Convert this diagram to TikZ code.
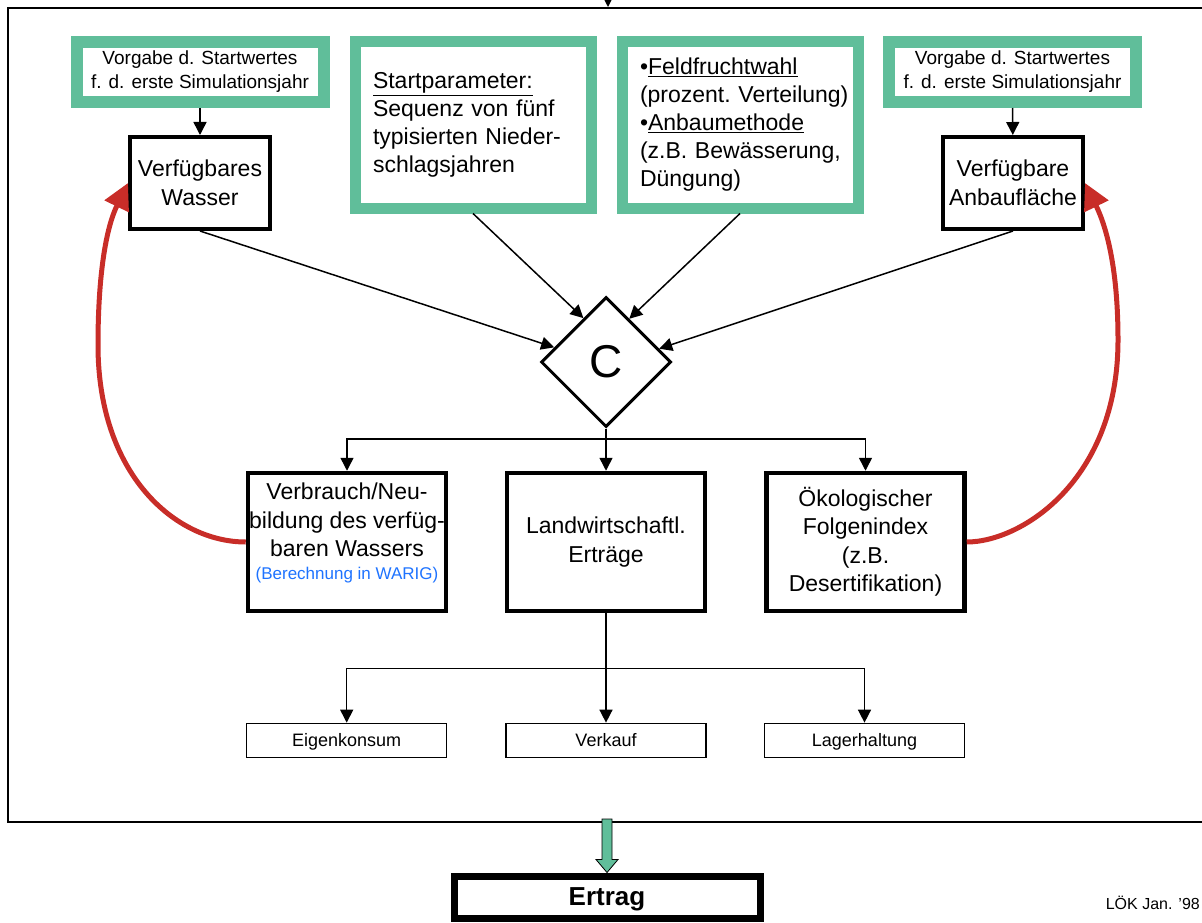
\documentclass[tikz,border=0pt]{standalone}
\usepackage{fontspec}
\setmainfont{Liberation Sans}
\usepackage{tikz}
\usetikzlibrary{arrows.meta, shapes.geometric, calc}
\definecolor{lgreen}{RGB}{96,190,154}
\definecolor{lred}{RGB}{200,45,40}
\definecolor{lblue}{RGB}{30,115,255}
\newcommand\setfs[2]{\fontsize{#1pt}{#2pt}\selectfont}
\tikzset{
  gbox/.style ={rectangle, draw=lgreen, line width=12pt, fill=white, align=center, inner sep=0pt},
  blk/.style  ={rectangle, draw, line width=4.5pt, fill=white, align=center, inner sep=0pt, minimum width=198pt, minimum height=138pt, font=\setfs{23}{28.5}},
  sblk/.style ={blk, line width=4pt, minimum width=140pt, minimum height=92pt},
  endbox/.style ={rectangle, draw, line width=1.5pt, minimum width=200pt, minimum height=34pt, inner sep=0pt, text height=13pt, text depth=0pt, font=\setfs{18}{22}},
  dec/.style  ={diamond, draw, line width=3pt, aspect=1, inner sep=0pt, minimum width=130pt, minimum height=130pt, font=\setfs{46}{50}},
  fl/.style   ={-{Triangle[length=13pt,width=13pt]}, line width=1.5pt},
  rfl/.style  ={-{Triangle[length=26pt,width=26pt]}, draw=lred, line width=5pt},
}

\begin{document}
\begin{tikzpicture}[x=1pt, y=-1pt]
  \useasboundingbox (0,0) rectangle (1202,923);
  % frame
  \draw[line width=2pt] (1202,8) -- (8,8) -- (8,822) -- (1202,822);
  \coordinate (inflow) at (608,-4);
  \coordinate (intop) at (608,7);
  \draw[fl] (inflow) -- (intop);

  % inputs
  \node[gbox, minimum width=247pt, minimum height=60pt, font=\setfs{19}{24}] (vorgA) at (200,72) {Vorgabe d. Startwertes\\f. d. erste Simulationsjahr};
  \node[gbox, line width=11pt, minimum height=166pt, text width=200pt, inner xsep=18pt, align=left, font=\setfs{23}{28}] (start) at (473,125) {\underline{Startparameter:}\\Sequenz von fünf\\typisierten Nieder-\\schlagsjahren};
  \node[gbox, line width=11pt, minimum height=166pt, text width=200pt, inner xsep=18pt, align=left, font=\setfs{23}{28}] (feld) at (740,125) {\textbullet\underline{Feldfruchtwahl}\\\mbox{(prozent.\ Verteilung)}\\\textbullet\underline{Anbaumethode}\\\mbox{(z.B.\ Bewässerung,}\\Düngung)};
  \node[gbox, minimum width=247pt, minimum height=60pt, font=\setfs{19}{24}] (vorgD) at (1012.5,72) {Vorgabe d. Startwertes\\f. d. erste Simulationsjahr};
  \node[sblk] (wasser) at (200,183) {Verfügbares\\Wasser};
  \node[sblk] (anbau) at (1013,183) {Verfügbare\\Anbaufläche};

  \node[dec] (c) at (606,362) {C};

  % results
  \node[blk] (verb) at (347,542) {Verbrauch/Neu-\\bildung des verfüg-\\baren Wassers\\[-6pt]{\color{lblue}\setfs{17}{20}(Berechnung in WARIG)}\rule[-22pt]{0pt}{1pt}};
  \node[blk] (landw) at (606,542) {Landwirtschaftl.\\Erträge};
  \node[blk] (oek) at (865.5,542) {Ökologischer\\Folgenindex\\(z.B.\\Desertifikation)};

  \node[endbox] (eigen) at (346.7,740.4) {Eigenkonsum};
  \node[endbox] (verkauf) at (606,740.4) {Verkauf};
  \node[endbox] (lager) at (864.5,740.4) {Lagerhaltung};

  \node[draw, line width=7pt, minimum width=306pt, minimum height=42pt, inner sep=0pt, text depth=0pt, font=\setfs{26}{30}\bfseries] (ertrag) at (607,897) {Ertrag};
  \node[anchor=base east, inner sep=0pt, font=\setfs{16}{19}] (stamp) at (1200,909) {LÖK Jan. '98};

  % connectors
  \draw[fl] (vorgA) -- (wasser);
  \draw[fl] (vorgD) -- (anbau);
  \draw[fl] (wasser.south) -- ($(c.west)!0.22!(c.north)$);
  \draw[fl] (start.south) -- ($(c.west)!0.66!(c.north)$);
  \draw[fl] (feld.south) -- ($(c.north)!0.35!(c.east)$);
  \draw[fl] (anbau.south) -- ($(c.north)!0.8!(c.east)$);

  \coordinate (cs) at ($(c.south)+(0,10.5)$);
  \draw[fl] (c.south) -- (landw.north);
  \draw[fl] (cs) -| (verb.north);
  \draw[fl] (cs) -| (oek.north);

  \coordinate (ls) at ($(landw.south)+(0,55)$);
  \draw[fl] (landw.south) -- (verkauf.north);
  \draw[fl] (ls) -| (eigen.north);
  \draw[fl] (ls) -| (lager.north);

  % feedback
  \coordinate (lbend) at (98,345);
  \coordinate (rbend) at (1118,340);
  \draw[rfl] (verb.west) .. controls +(-70,0) and +(0,130) .. (lbend) .. controls +(0,-70) and +(-22,45) .. (wasser.west);
  \draw[rfl] (oek.east) .. controls +(55,0) and +(0,140) .. (rbend) .. controls +(0,-70) and +(22,45) .. (anbau.east);

  % output arrow
  \draw[fill=lgreen, line width=0.8pt] ($(ertrag.north)+(-5,-53.5)$) -- ++(0,40.5) -- ++(-6,0) -- (ertrag.north) -- ++(11,-13) -- ++(-6,0) -- ++(0,-40.5) -- cycle;
\end{tikzpicture}
\end{document}
